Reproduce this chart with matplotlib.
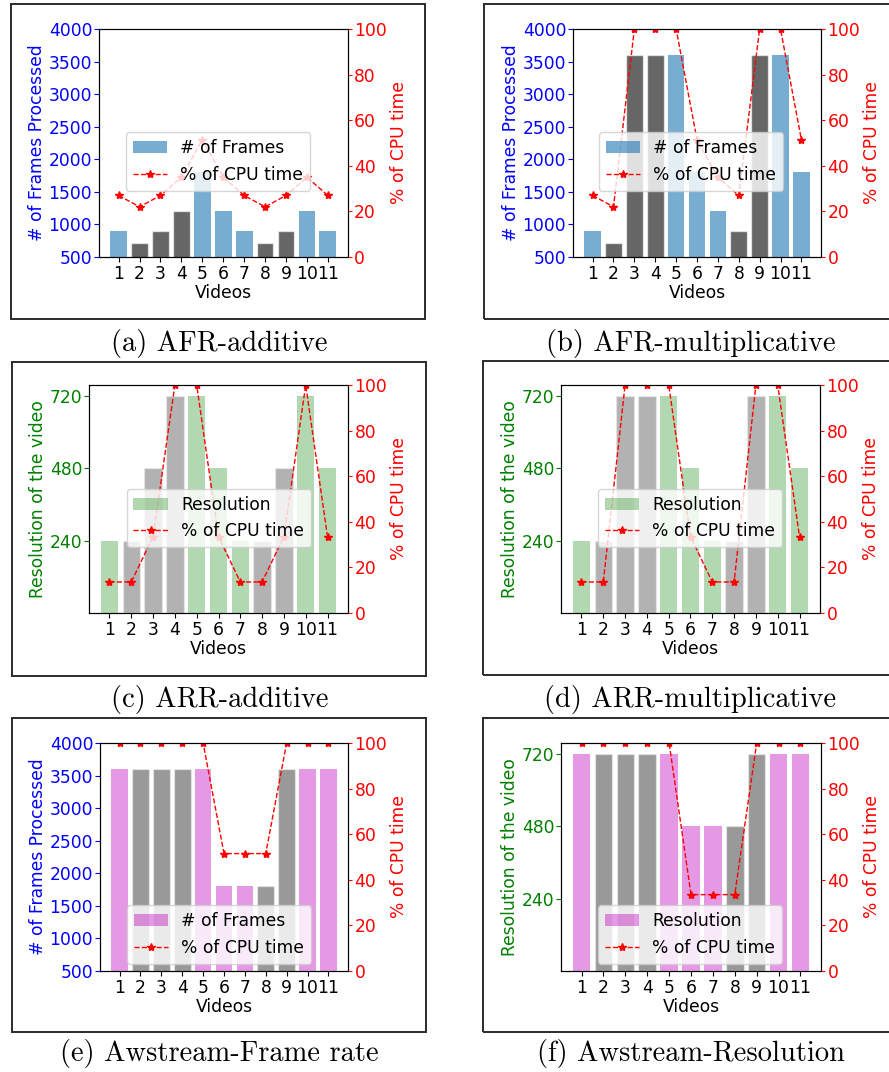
import matplotlib
matplotlib.use("Agg")
import matplotlib.pyplot as plt
from matplotlib.patches import Rectangle

# ---- data ---------------------------------------------------------------
videos = [1, 2, 3, 4, 5, 6, 7, 8, 9, 10, 11]
gray_videos = [2, 3, 4, 8, 9]

afr_add_frames = [900, 720, 900, 1200, 1800, 1200, 900, 720, 900, 1200, 900]
afr_add_cpu = [27, 22, 27, 35, 51.5, 35, 27, 22, 27, 35, 27]

afr_mul_frames = [900, 720, 3600, 3600, 3600, 1800, 1200, 900, 3600, 3600, 1800]
afr_mul_cpu = [27, 22, 100, 100, 100, 51.5, 35, 27, 100, 100, 51.5]

arr_add_res = [240, 240, 480, 720, 720, 480, 240, 240, 480, 720, 480]
arr_add_cpu = [13.6, 13.6, 33.5, 100, 100, 33.5, 13.6, 13.6, 33.5, 100, 33.5]

arr_mul_res = [240, 240, 720, 720, 720, 480, 240, 240, 720, 720, 480]
arr_mul_cpu = [13.6, 13.6, 100, 100, 100, 33.5, 13.6, 13.6, 100, 100, 33.5]

aws_fr_frames = [3600, 3600, 3600, 3600, 3600, 1800, 1800, 1800, 3600, 3600, 3600]
aws_fr_cpu = [100, 100, 100, 100, 100, 51.5, 51.5, 51.5, 100, 100, 100]

aws_res_res = [720, 720, 720, 720, 720, 480, 480, 480, 720, 720, 720]
aws_res_cpu = [100, 100, 100, 100, 100, 33.5, 33.5, 33.5, 100, 100, 100]

frame_ticks = [500, 1000, 1500, 2000, 2500, 3000, 3500, 4000]
res_ticks = [240, 480, 720]
cpu_ticks = [0, 20, 40, 60, 80, 100]

# ---- layout helpers -----------------------------------------------------
W, H = 889, 1072
FS = 12.3
fig = plt.figure(figsize=(W / 100, H / 100), dpi=100)


def fx(x):
    return x / W


def fy(y):
    return 1 - y / H


def panel(ax_box, frame_box, caption_xy, legend_xy, caption,
          bars, cpu, bar_color, bar_alpha, bar_label,
          left_label, left_color, kind):
    l, r, t, b = ax_box
    ax = fig.add_axes([fx(l), fy(b), fx(r - l), (b - t) / H])

    colored = [v for v in videos if v not in gray_videos]
    colored_vals = [bars[v - 1] for v in colored]
    gray_vals = [bars[v - 1] for v in gray_videos]
    h_bars = ax.bar(colored, colored_vals, width=0.8,
                    color=bar_color, alpha=bar_alpha, label=bar_label)
    ax.bar(gray_videos, gray_vals, width=0.8, color="black",
           alpha=bar_alpha, edgecolor="white", linewidth=1.0)

    if kind == "frames":
        ax.set_ylim(500, 4000)
        ax.set_yticks(frame_ticks)
    else:
        ax.set_yticks(res_ticks)
    ax.set_xticks(videos)
    ax.set_xticklabels([str(v) for v in videos])
    ax.tick_params(axis="both", labelsize=FS)
    ax.tick_params(axis="x", pad=2.5)
    ax.tick_params(axis="y", colors=left_color, pad=1.5, length=3.4)
    ax.set_ylabel(left_label, color=left_color, fontsize=FS, labelpad=1.5)
    ax.set_xlabel("Videos", fontsize=FS, labelpad=0.5)

    ax2 = ax.twinx()
    h_line, = ax2.plot(videos, cpu, "r--", marker="*", markersize=6,
                       linewidth=1.0, label="% of CPU time")
    ax2.set_ylim(0, 100)
    ax2.set_yticks(cpu_ticks)
    ax2.tick_params(axis="y", colors="red", labelsize=FS, pad=1.7,
                    length=3.0)
    ax2.set_ylabel("% of CPU time", color="red", fontsize=FS, labelpad=2)

    fig.legend([h_bars, h_line], [bar_label, "% of CPU time"],
               loc="center", fontsize=FS,
               bbox_to_anchor=(fx(legend_xy[0]), fy(legend_xy[1])))

    fl, ft, fr, fb = frame_box
    fig.patches.append(Rectangle((fx(fl), fy(fb)), fx(fr - fl), (fb - ft) / H,
                                 transform=fig.transFigure, fill=False,
                                 edgecolor="#2b2b2b", linewidth=1.4))
    fig.text(fx(caption_xy[0]), fy(caption_xy[1]), caption,
             family="cmr10", fontsize=20.5, ha="center", va="center")


blue = "#1f77b4"
green = "green"
pink = "m"

panel((99, 347.5, 29, 257), (11, 4, 425, 319), (219, 343), (218, 161.5),
      "(a) AFR-additive", afr_add_frames, afr_add_cpu, blue, 0.6,
      "# of Frames", "# of Frames Processed", "blue", "frames")
panel((573, 821, 29, 257), (484, 4, 905, 319), (691, 343), (691, 161.5),
      "(b) AFR-multiplicative", afr_mul_frames, afr_mul_cpu, blue, 0.6,
      "# of Frames", "# of Frames Processed", "blue", "frames")
panel((89, 348, 385, 613), (12, 361.5, 426, 675.5), (219.5, 699), (218.8, 518),
      "(c) ARR-additive", arr_add_res, arr_add_cpu, green, 0.3,
      "Resolution", "Resolution of the video", "green", "res")
panel((561, 820, 385, 613), (483, 361, 905, 675), (690.5, 699), (690, 518),
      "(d) ARR-multiplicative", arr_mul_res, arr_mul_cpu, green, 0.3,
      "Resolution", "Resolution of the video", "green", "res")
panel((100, 348, 743, 971), (12, 718, 426, 1032), (219.5, 1054), (219, 934.5),
      "(e) Awstream-Frame rate", aws_fr_frames, aws_fr_cpu, pink, 0.4,
      "# of Frames", "# of Frames Processed", "blue", "frames")
panel((561, 821, 743, 971), (483, 718, 905, 1032), (690.5, 1054), (690, 934.5),
      "(f) Awstream-Resolution", aws_res_res, aws_res_cpu, pink, 0.4,
      "Resolution", "Resolution of the video", "green", "res")

fig.savefig("out.png", dpi=100)
